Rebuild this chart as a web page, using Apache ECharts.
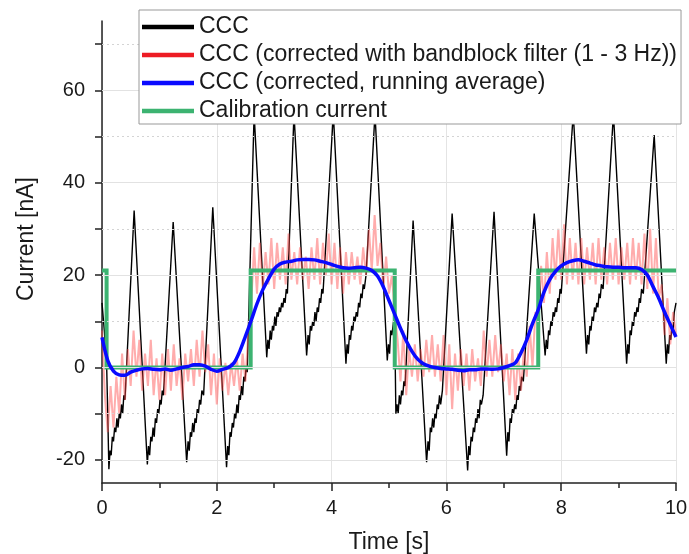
<!DOCTYPE html>
<html>
<head>
<meta charset="utf-8">
<script src="https://cdn.jsdelivr.net/npm/echarts@6/dist/echarts.min.js"></script>
<style>
html,body{margin:0;padding:0;background:#fff;}
#chart{width:689px;height:554px;}
</style>
</head>
<body>
<div id="chart"></div>
<script>
// ---------- data ----------
var seriesNames = [
  'CCC',
  'CCC (corrected with bandblock filter (1 - 3 Hz))',
  'CCC (corrected, running average)',
  'Calibration current'
];

// x-axis ticks [s]
var xTickLabels = [0, 2, 4, 6, 8, 10];
// y-axis ticks [nA]
var yLabelValues = [-20, 0, 20, 40, 60];
var yMinorValues = [-10, 10, 30, 50, 70];

// raw CCC signal
var cccTime = [
  0.00,0.04,0.08,0.10,0.12,0.14,0.16,0.18,0.20,0.22,0.24,0.26,0.28,0.30,0.32,0.34,0.36,0.38,0.40,
  0.56,0.79,
  0.81,0.83,0.85,0.87,0.89,0.91,0.93,0.95,0.97,0.99,1.01,1.03,1.05,1.07,
  1.24,1.475,
  1.50,1.52,1.54,1.56,1.58,1.60,1.62,1.64,1.66,1.68,1.70,1.72,1.74,1.77,
  1.93,2.17,
  2.19,2.21,2.23,2.25,2.27,2.29,2.31,2.33,2.35,2.37,2.39,2.41,2.43,2.45,2.47,2.49,2.51,2.53,
  2.65,2.87,
  2.89,2.91,2.93,2.95,2.97,2.99,3.01,3.03,3.05,3.07,3.09,3.11,3.13,3.15,3.17,3.19,3.21,3.23,
  3.345,3.565,
  3.59,3.61,3.63,3.65,3.67,3.69,3.71,3.73,3.75,3.77,3.79,3.81,3.83,3.85,
  4.03,4.25,
  4.27,4.29,4.31,4.33,4.35,4.37,4.39,4.41,4.43,4.45,4.47,4.49,4.51,4.53,4.55,4.57,4.60,
  4.756,4.97,
  4.99,5.01,5.03,5.05,5.08,5.10,5.12,5.14,5.16,5.18,5.20,5.22,5.24,5.26,5.28,
  5.42,5.655,
  5.68,5.70,5.72,5.74,5.76,5.78,5.80,5.82,5.84,5.86,5.88,5.90,5.93,
  6.10,6.37,
  6.39,6.41,6.43,6.45,6.47,6.49,6.51,6.53,6.55,6.57,6.59,6.61,6.64,
  6.83,7.05,
  7.07,7.09,7.11,7.13,7.15,7.17,7.19,7.21,7.23,7.25,7.27,7.29,7.31,7.34,
  7.53,7.72,
  7.74,7.76,7.78,7.80,7.82,7.84,7.86,7.88,7.90,7.92,7.94,7.96,7.98,8.00,
  8.21,8.44,
  8.46,8.48,8.50,8.52,8.54,8.56,8.58,8.60,8.62,8.64,8.66,8.68,8.70,8.73,
  8.91,9.14,
  9.16,9.18,9.20,9.22,9.24,9.26,9.28,9.30,9.32,9.34,9.36,9.38,9.40,9.43,
  9.62,9.83,
  9.85,9.87,9.89,9.91,9.93,9.95,9.97,10.0
];
var cccCurrent = [
  14,8,1,-10,-22,-18,-19,-15,-16,-13,-14,-11,-13,-10,-11,-8,-10,-6,-7,
  34,-21,
  -17,-19,-15,-16,-13,-15,-11,-12,-9,-10,-7,-8,-5,-6,
  31.5,-20.5,
  -16,-18,-14,-15,-12,-14,-11,-12,-9,-10,-7,-8,-5,-6,
  34.7,-21.6,
  -17,-19,-14,-15,-12,-13,-10,-11,-8,-10,-6,-7,-4,-6,-2,-3,0,-1,
  55,2.2,
  6,4,8,6,9,8,11,9,12,11,13,12,14,13,15,14,17,16,
  55,2.6,
  7,5,9,8,10,9,12,10,13,12,15,14,17,16,
  55,0.8,
  5,3,7,6,9,8,11,10,12,11,14,13,16,15,18,17,20,
  55,1.5,
  5,3,8,7,10,9,-10,-8,-10,-6,-8,-5,-6,-3,-4,
  31.8,-20.5,
  -16,-18,-13,-14,-11,-13,-10,-11,-8,-9,-6,-8,-5,
  33.3,-22.3,
  -17,-19,-15,-16,-13,-14,-11,-12,-9,-11,-7,-8,-6,
  33.7,-19.1,
  -14,-16,-11,-12,-9,-10,-8,-9,-6,-7,-4,-5,-2,-3,
  33.3,2.6,
  6,4,8,7,10,9,12,11,13,12,15,14,17,16,
  55,3,
  7,5,9,8,11,10,13,12,14,13,16,15,18,17,
  55,0.8,
  5,3,8,7,10,9,12,11,13,12,15,14,17,16,
  50.3,0.8,
  5,3,7,6,9,8,12,14
];

// bandblock-filtered CCC, sampled every 0.05 s from t = 0
var filtStart = 0;
var filtStep = 0.05;
var filtCurrent = [
  8,-6,-14,-4,-13,-2,-10,3,-7,4,
  -4,8,-2,6,-5,3,-4,6,-6,2,
  -7,3,-6,4,-5,5,-4,2,-7,3,
  -3,4,-4,6,-2,8,-1,5,-6,3,
  -8,2,-5,1,-6,1,-4,2,-5,3,
  -3,8,14,26,16,27,17,25,18,28,
  17,27,19,26,18,29,19,25,18,26,
  19,24,17,26,19,28,18,27,20,29,
  18,27,17,26,16,25,18,25,19,24,
  18,26,20,30,21,33,22,27,17,24,
  16,20,12,6,-3,8,-6,4,-2,5,
  -3,4,-2,6,-1,7,-2,5,-3,7,
  -6,5,-9,3,-5,4,-4,3,-5,4,
  -3,2,-4,8,-2,6,-2,7,-1,5,
  -3,3,-6,4,-7,3,-5,4,-2,9,
  0,12,10,22,14,25,16,28,19,30,
  19,31,18,28,19,27,18,28,18,26,
  19,27,18,28,19,26,18,27,19,28,
  18,26,19,27,18,28,19,27,18,29,
  17,30,16,28,15,18,7,15,5,12,
  7
];

// running average
var avgTime = [
  0.0,0.1,0.2,0.3,0.4,0.5,0.6,0.7,0.8,0.9,
  1.0,1.1,1.2,1.3,1.4,1.5,1.6,1.7,1.8,1.9,
  2.0,2.1,2.2,2.3,2.4,2.5,2.6,2.7,2.8,2.9,
  3.0,3.1,3.2,3.3,3.4,3.5,3.6,3.7,3.8,3.9,
  4.0,4.1,4.2,4.3,4.4,4.5,4.6,4.7,4.8,4.9,
  5.0,5.1,5.2,5.3,5.4,5.5,5.6,5.7,5.8,5.9,
  6.0,6.1,6.2,6.3,6.4,6.5,6.6,6.7,6.8,6.9,
  7.0,7.1,7.2,7.3,7.4,7.5,7.6,7.7,7.8,7.9,
  8.0,8.1,8.2,8.3,8.4,8.5,8.6,8.7,8.8,8.9,
  9.0,9.1,9.2,9.3,9.4,9.5,9.6,9.7,9.8,9.9,10.0
];
var avgCurrent = [
  6.5,1.5,-0.8,-1.6,-1.7,-1.0,-0.6,-0.3,-0.2,-0.4,
  -0.5,-0.3,-0.6,-0.3,0.0,0.2,0.6,0.6,0.3,-0.4,
  -0.8,-0.4,0.0,1.0,3.5,6.8,10.2,13.8,16.8,19.2,
  21.3,22.4,22.8,23.0,23.3,23.4,23.4,23.3,23.0,22.7,
  22.3,21.9,21.6,21.5,21.6,21.7,21.5,21.0,19.8,17.5,
  14.5,11.5,8.5,5.8,3.5,1.8,0.8,0.3,0.0,-0.2,
  -0.3,-0.4,-0.6,-0.7,-0.5,-0.5,-0.3,-0.3,-0.4,-0.3,
  0.0,0.4,1.0,3.2,6.0,9.5,12.5,16.3,19.0,20.8,
  22.0,22.7,23.1,23.3,23.0,22.6,22.2,22.0,21.8,21.7,
  21.7,21.6,21.6,21.6,21.2,20.0,17.5,15.0,12.0,9.3,6.6
];

// calibration current (square wave)
var calTime = [0, 0.08, 0.08, 2.59, 2.59, 5.10, 5.10, 7.60, 7.60, 10];
var calCurrent = [21, 21, 0, 0, 21, 21, 0, 0, 21, 21];

// ---------- build ----------
function pairs(xs, ys) {
  var out = [];
  for (var i = 0; i < xs.length; i++) out.push([xs[i], ys[i]]);
  return out;
}
var filtData = [];
for (var i = 0; i < filtCurrent.length; i++) {
  filtData.push([+(filtStart + i * filtStep).toFixed(3), filtCurrent[i]]);
}

var FONT = '"Liberation Sans", Arial, sans-serif';
var TXT = '#1a1a1a';

var gridLines = [];
yLabelValues.forEach(function (v) {
  gridLines.push({ yAxis: v, lineStyle: { color: '#e2e2e2', width: 1, type: 'solid' } });
});
yMinorValues.forEach(function (v) {
  gridLines.push({ yAxis: v, lineStyle: { color: '#d4d4d4', width: 1, type: [2, 3] } });
});

var chart = echarts.init(document.getElementById('chart'), null, { renderer: 'canvas' });
chart.setOption({
  animation: false,
  backgroundColor: '#ffffff',
  grid: { left: 102, right: 13, top: 21, bottom: 71, containLabel: false, outerBoundsMode: 'none' },
  xAxis: {
    type: 'value',
    min: 0, max: 10, interval: 2,
    name: 'Time [s]',
    nameLocation: 'middle',
    nameGap: 48,
    nameTextStyle: { fontSize: 23, color: TXT, fontFamily: FONT },
    axisLine: { show: true, onZero: false, lineStyle: { color: '#222', width: 1.5 } },
    axisTick: { show: true, inside: false, length: 8, lineStyle: { color: '#222', width: 1.5 } },
    minorTick: { show: true, splitNumber: 2, length: 5, lineStyle: { color: '#222', width: 1.5 } },
    axisLabel: {
      fontSize: 20, color: TXT, fontFamily: FONT, margin: 15,
      formatter: function (v) { return xTickLabels.indexOf(v) >= 0 ? String(v) : ''; }
    },
    splitLine: { show: true, lineStyle: { color: '#e4e4e4', width: 1 } },
    minorSplitLine: { show: false }
  },
  yAxis: {
    type: 'value',
    min: -25, max: 75,
    name: 'Current [nA]',
    nameLocation: 'middle',
    nameGap: 64,
    nameRotate: 90,
    nameTextStyle: { fontSize: 23, color: TXT, fontFamily: FONT, padding: [0, 0, 0, 26] },
    axisLine: { show: true, onZero: false, lineStyle: { color: '#222', width: 1.5 } },
    axisTick: {
      show: true, inside: false, length: 7,
      customValues: yLabelValues.concat(yMinorValues),
      lineStyle: { color: '#222', width: 1.5 }
    },
    axisLabel: {
      fontSize: 20, color: TXT, fontFamily: FONT, margin: 17,
      customValues: yLabelValues
    },
    splitLine: { show: false },
    minorTick: { show: false },
    minorSplitLine: { show: false }
  },
  legend: {
    orient: 'vertical',
    left: 139, top: 10,
    padding: [5, 4, 1, 3],
    itemGap: 4,
    itemWidth: 52,
    itemHeight: 4.5,
    icon: 'rect',
    backgroundColor: '#ffffff',
    borderColor: '#999999',
    borderWidth: 1,
    borderRadius: 0,
    z: 20,
    textStyle: { fontSize: 23, color: TXT, fontFamily: FONT, lineHeight: 24 },
    data: [
      { name: seriesNames[0], itemStyle: { color: '#000000', opacity: 1 } },
      { name: seriesNames[1], itemStyle: { color: '#ed1c24', opacity: 1 } },
      { name: seriesNames[2], itemStyle: { color: '#0a0aff', opacity: 1 } },
      { name: seriesNames[3], itemStyle: { color: '#3cb371', opacity: 1 } }
    ]
  },
  series: [
    {
      name: 'grid-helper',
      type: 'line',
      data: [],
      z: 1,
      silent: true,
      markLine: {
        silent: true,
        symbol: 'none',
        label: { show: false },
        animation: false,
        data: gridLines
      }
    },
    {
      name: seriesNames[0],
      type: 'line',
      data: pairs(cccTime, cccCurrent),
      showSymbol: false, symbol: 'none',
      z: 2,
      lineStyle: { color: '#000000', width: 1.4 },
      itemStyle: { color: '#000000' }
    },
    {
      name: seriesNames[1],
      type: 'line',
      data: filtData,
      showSymbol: false, symbol: 'none',
      z: 3,
      lineStyle: { color: 'rgba(255,70,70,0.45)', width: 2 },
      itemStyle: { color: '#ed1c24' }
    },
    {
      name: seriesNames[3],
      type: 'line',
      data: pairs(calTime, calCurrent),
      showSymbol: false, symbol: 'none',
      z: 4,
      lineStyle: { color: '#3cb371', width: 4, join: 'miter' },
      itemStyle: { color: '#3cb371' }
    },
    {
      name: seriesNames[2],
      type: 'line',
      data: pairs(avgTime, avgCurrent),
      showSymbol: false, symbol: 'none',
      smooth: 0.3,
      z: 5,
      lineStyle: { color: '#0a0aff', width: 3.5 },
      itemStyle: { color: '#0a0aff' }
    }
  ]
});
</script>
</body>
</html>
